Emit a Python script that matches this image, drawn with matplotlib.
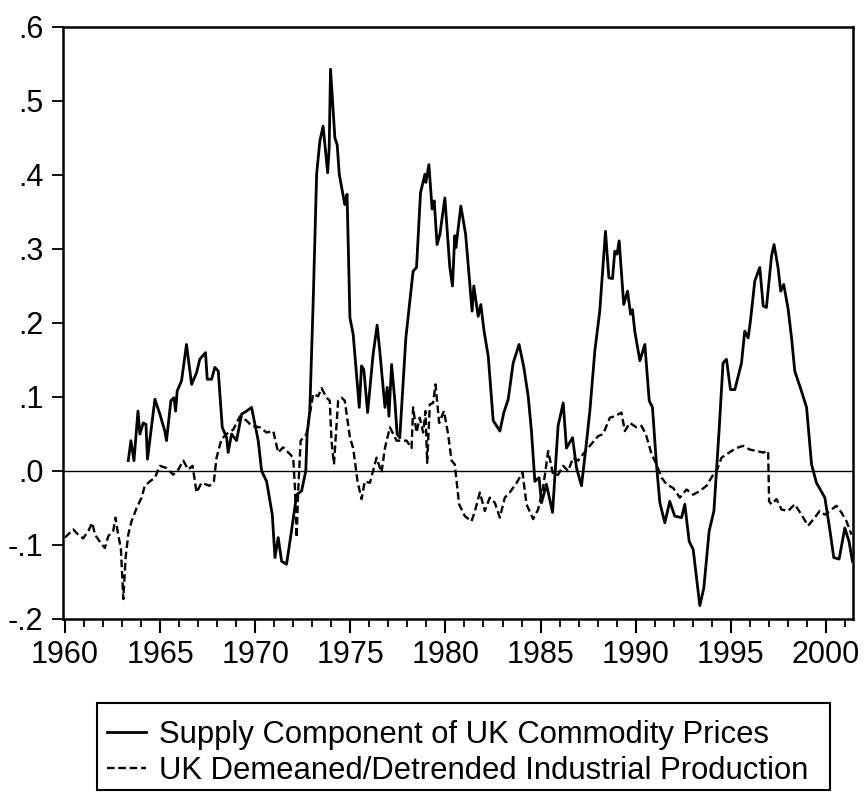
import matplotlib
matplotlib.use('Agg')
import matplotlib.pyplot as plt
from matplotlib.patches import Rectangle
from matplotlib.ticker import MultipleLocator, FixedLocator

plt.rcParams['font.family'] = ['Liberation Sans', 'DejaVu Sans']

# Supply component of UK commodity prices
supply_years = [
    1963.33, 1963.47, 1963.63, 1963.84, 1963.94, 1964.12, 1964.26, 1964.34, 1964.73, 1964.99,
    1965.25, 1965.34, 1965.57, 1965.73, 1965.82, 1965.90, 1966.13, 1966.39, 1966.66, 1966.92,
    1967.09, 1967.39, 1967.48, 1967.71, 1967.88, 1968.06, 1968.27, 1968.50, 1968.58, 1968.76,
    1969.02, 1969.29, 1969.55, 1969.81, 1970.16, 1970.34, 1970.60, 1970.90, 1971.04, 1971.21,
    1971.39, 1971.65, 1971.88, 1972.18, 1972.44, 1972.66, 1972.73, 1972.87, 1973.05, 1973.23,
    1973.40, 1973.57, 1973.81, 1973.89, 1973.96, 1974.19, 1974.31, 1974.42, 1974.71, 1974.83,
    1974.98, 1975.15, 1975.47, 1975.59, 1975.71, 1975.91, 1976.20, 1976.41, 1976.55, 1976.82,
    1976.94, 1977.03, 1977.17, 1977.34, 1977.46, 1977.60, 1977.92, 1978.30, 1978.48, 1978.69,
    1978.92, 1978.97, 1979.13, 1979.30, 1979.41, 1979.56, 1979.71, 1979.97, 1980.23, 1980.37,
    1980.49, 1980.55, 1980.81, 1981.06, 1981.25, 1981.40, 1981.49, 1981.72, 1981.86, 1982.03,
    1982.25, 1982.51, 1982.69, 1982.86, 1983.07, 1983.30, 1983.56, 1983.87, 1984.12, 1984.35,
    1984.52, 1984.70, 1984.92, 1985.05, 1985.31, 1985.63, 1985.92, 1986.19, 1986.36, 1986.68,
    1986.89, 1987.15, 1987.38, 1987.59, 1987.85, 1988.11, 1988.41, 1988.59, 1988.78, 1988.90,
    1989.02, 1989.13, 1989.37, 1989.57, 1989.73, 1989.83, 1989.95, 1990.22, 1990.48, 1990.71,
    1990.88, 1991.09, 1991.27, 1991.53, 1991.79, 1992.05, 1992.41, 1992.58, 1992.81, 1993.02,
    1993.37, 1993.58, 1993.86, 1994.11, 1994.38, 1994.59, 1994.77, 1994.98, 1995.21, 1995.56,
    1995.73, 1995.91, 1996.03, 1996.26, 1996.52, 1996.70, 1996.87, 1997.14, 1997.27, 1997.48,
    1997.62, 1997.78, 1998.01, 1998.19, 1998.36, 1998.71, 1998.98, 1999.24, 1999.50, 1999.94,
    2000.20, 2000.41, 2000.69, 2000.99, 2001.21, 2001.39,
]
supply_vals = [
    0.014, 0.041, 0.014, 0.081, 0.050, 0.065, 0.063, 0.016, 0.097, 0.077,
    0.054, 0.041, 0.095, 0.099, 0.081, 0.108, 0.122, 0.171, 0.117, 0.133,
    0.151, 0.160, 0.124, 0.124, 0.140, 0.135, 0.059, 0.045, 0.025, 0.050,
    0.041, 0.077, 0.081, 0.086, 0.041, 0.000, -0.014, -0.059, -0.117, -0.090,
    -0.122, -0.126, -0.086, -0.032, -0.027, 0.000, 0.050, 0.081, 0.230, 0.401,
    0.446, 0.466, 0.403, 0.437, 0.543, 0.450, 0.441, 0.401, 0.360, 0.374,
    0.207, 0.185, 0.086, 0.142, 0.137, 0.079, 0.158, 0.197, 0.162, 0.086,
    0.113, 0.074, 0.144, 0.095, 0.050, 0.045, 0.180, 0.270, 0.275, 0.376,
    0.401, 0.390, 0.414, 0.354, 0.365, 0.306, 0.320, 0.369, 0.275, 0.250,
    0.318, 0.302, 0.358, 0.320, 0.261, 0.216, 0.250, 0.209, 0.225, 0.189,
    0.155, 0.068, 0.061, 0.054, 0.079, 0.097, 0.146, 0.171, 0.140, 0.101,
    0.054, -0.014, -0.009, -0.043, -0.018, -0.056, 0.061, 0.092, 0.031, 0.045,
    0.004, -0.020, 0.031, 0.081, 0.162, 0.216, 0.324, 0.261, 0.260, 0.297,
    0.293, 0.311, 0.225, 0.243, 0.212, 0.218, 0.189, 0.149, 0.171, 0.095,
    0.086, 0.009, -0.043, -0.070, -0.041, -0.061, -0.063, -0.045, -0.095, -0.106,
    -0.182, -0.158, -0.081, -0.054, 0.054, 0.146, 0.151, 0.110, 0.110, 0.146,
    0.189, 0.180, 0.203, 0.257, 0.275, 0.223, 0.221, 0.291, 0.306, 0.275,
    0.243, 0.252, 0.219, 0.180, 0.135, 0.108, 0.086, 0.009, -0.016, -0.036,
    -0.079, -0.117, -0.119, -0.077, -0.095, -0.122,
]

# UK demeaned/detrended industrial production
ip_years = [
    1960.00, 1960.44, 1960.70, 1960.96, 1961.23, 1961.44, 1961.58, 1961.93, 1962.10, 1962.28,
    1962.54, 1962.66, 1962.80, 1962.94, 1963.07, 1963.19, 1963.33, 1963.50, 1963.77, 1964.03,
    1964.20, 1964.47, 1964.73, 1964.99, 1965.34, 1965.69, 1965.96, 1966.22, 1966.48, 1966.71,
    1966.92, 1967.18, 1967.60, 1967.83, 1967.97, 1968.23, 1968.50, 1968.85, 1969.20, 1969.55,
    1969.81, 1970.25, 1970.60, 1970.95, 1971.21, 1971.47, 1971.82, 1972.00, 1972.09, 1972.18,
    1972.26, 1972.39, 1972.70, 1972.87, 1973.05, 1973.31, 1973.49, 1973.75, 1973.92, 1974.01,
    1974.14, 1974.36, 1974.54, 1974.71, 1974.98, 1975.15, 1975.38, 1975.59, 1975.76, 1976.03,
    1976.38, 1976.64, 1976.82, 1977.08, 1977.43, 1977.96, 1978.22, 1978.30, 1978.48, 1978.65,
    1978.83, 1978.95, 1979.04, 1979.18, 1979.35, 1979.48, 1979.67, 1979.92, 1980.14, 1980.32,
    1980.49, 1980.72, 1981.02, 1981.37, 1981.55, 1981.81, 1982.07, 1982.33, 1982.60, 1982.86,
    1983.12, 1983.38, 1983.74, 1984.05, 1984.26, 1984.61, 1984.87, 1985.13, 1985.40, 1985.66,
    1985.92, 1986.19, 1986.45, 1986.71, 1986.97, 1987.24, 1987.59, 1988.02, 1988.29, 1988.64,
    1988.90, 1989.25, 1989.43, 1989.69, 1990.04, 1990.30, 1990.53, 1990.83, 1991.09, 1991.36,
    1991.62, 1991.97, 1992.32, 1992.67, 1993.02, 1993.37, 1993.72, 1994.07, 1994.25, 1994.51,
    1995.03, 1995.30, 1995.64, 1995.99, 1996.35, 1996.70, 1996.96, 1997.01, 1997.14, 1997.40,
    1997.66, 1998.01, 1998.36, 1998.71, 1999.06, 1999.41, 1999.67, 1999.94, 2000.55, 2000.81,
    2001.08, 2001.34,
]
ip_vals = [
    -0.090, -0.079, -0.086, -0.091, -0.081, -0.070, -0.086, -0.099, -0.104, -0.088,
    -0.081, -0.063, -0.086, -0.104, -0.173, -0.117, -0.086, -0.068, -0.050, -0.036,
    -0.020, -0.014, -0.009, 0.007, 0.004, -0.005, 0.002, 0.014, 0.002, 0.007,
    -0.029, -0.016, -0.020, -0.014, 0.018, 0.043, 0.050, 0.056, 0.074, 0.068,
    0.061, 0.059, 0.052, 0.054, 0.025, 0.032, 0.023, 0.018, -0.023, -0.090,
    -0.027, 0.041, 0.050, 0.077, 0.104, 0.101, 0.112, 0.099, 0.095, 0.041,
    0.009, 0.095, 0.099, 0.095, 0.045, 0.031, -0.014, -0.038, -0.014, -0.016,
    0.018, -0.002, 0.031, 0.059, 0.041, 0.041, 0.031, 0.086, 0.052, 0.072,
    0.052, 0.081, 0.011, 0.090, 0.092, 0.117, 0.065, 0.081, 0.050, 0.014,
    0.009, -0.045, -0.061, -0.068, -0.054, -0.029, -0.054, -0.036, -0.043, -0.063,
    -0.036, -0.029, -0.016, -0.002, -0.045, -0.065, -0.052, -0.023, 0.027, -0.005,
    -0.005, 0.007, 0.000, 0.018, 0.014, 0.023, 0.034, 0.047, 0.050, 0.072,
    0.074, 0.079, 0.054, 0.065, 0.059, 0.061, 0.050, 0.023, 0.009, -0.009,
    -0.018, -0.023, -0.036, -0.025, -0.032, -0.027, -0.020, -0.005, 0.000, 0.018,
    0.027, 0.031, 0.034, 0.029, 0.027, 0.025, 0.027, -0.041, -0.045, -0.038,
    -0.052, -0.054, -0.045, -0.059, -0.074, -0.063, -0.054, -0.059, -0.047, -0.056,
    -0.068, -0.086,
]

labels = ['Supply Component of UK Commodity Prices',
          'UK Demeaned/Detrended Industrial Production']
y_ticks = [-0.2, -0.1, 0.0, 0.1, 0.2, 0.3, 0.4, 0.5, 0.6]
y_tick_labels = ['-.2', '-.1', '.0', '.1', '.2', '.3', '.4', '.5', '.6']
x_major = [1960, 1965, 1970, 1975, 1980, 1985, 1990, 1995, 2000]

fig = plt.figure(figsize=(8.64, 7.92), dpi=100)
ax = fig.add_axes([63 / 864, 1 - 619 / 792, 790 / 864, 592 / 792])

ax.axhline(0, color='black', lw=1.0, zorder=1)
ax.plot(supply_years, supply_vals, color='black', lw=2.0, label=labels[0], zorder=3)
ax.plot(ip_years, ip_vals, color='black', lw=1.7, dashes=(3.2, 1.6), label=labels[1], zorder=2)

ax.set_xlim(1959.9, 2001.42)
ax.set_ylim(-0.2, 0.6)
ax.set_yticks(y_ticks)
ax.set_yticklabels(y_tick_labels)
ax.xaxis.set_major_locator(FixedLocator(x_major))
ax.xaxis.set_minor_locator(MultipleLocator(1))

for s in ax.spines.values():
    s.set_linewidth(1.8)
ax.tick_params(axis='y', direction='out', length=8, width=1.3, labelsize=22, pad=6)
ax.tick_params(axis='x', which='major', direction='out', length=10, width=1.5,
               labelsize=22, pad=5)
ax.tick_params(axis='x', which='minor', direction='out', length=6, width=1.3)

# legend entries without frame, box drawn separately so it sits where the original does
fig.legend(loc='upper left', bbox_to_anchor=(107 / 864, 0, 720 / 864, 1 - 720 / 792),
           mode='expand', fontsize=22.3, handlelength=1.25, handletextpad=0.42,
           labelspacing=0.2, borderpad=0, borderaxespad=0, frameon=False)
fig.patches.append(Rectangle((97 / 864, 1 - 790 / 792), 733 / 864, 87 / 792,
                             transform=fig.transFigure, fill=False,
                             edgecolor='black', lw=1.5))

fig.savefig('out.png', dpi=100)
